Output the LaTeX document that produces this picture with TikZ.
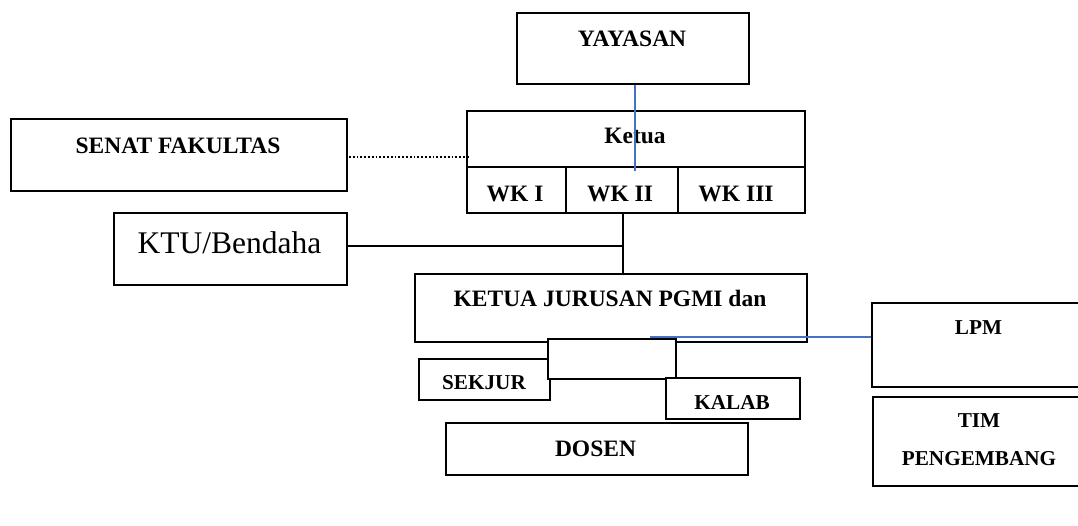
\documentclass[tikz,border=0pt]{standalone}
\usepackage{fontspec}
\setmainfont{Liberation Serif}
\definecolor{wordblue}{RGB}{68,114,196}
\begin{document}
\begin{tikzpicture}[x=1pt,y=-1pt,
  box/.style={draw, line width=1.7pt, fill=white, inner sep=0pt, anchor=north west},
  lbl/.style={font=\fontsize{23.5}{28}\selectfont\bfseries, anchor=base, inner sep=0pt},
  lbls/.style={font=\fontsize{21.2}{25}\selectfont\bfseries, anchor=base, inner sep=0pt},
  lblbig/.style={font=\fontsize{31.5}{36}\selectfont, anchor=base, inner sep=0pt},
  blk/.style={draw, line width=1.7pt},
  blu/.style={draw=wordblue, line width=1.3pt},
  dots/.style={draw, line width=1.8pt, dash pattern=on 1.8pt off 2pt}]
\clip (0,0) rectangle (1078,526);
\fill[white] (0,0) rectangle (1078,526);
% boxes
\node[box, minimum width=232pt, minimum height=71pt] (yayasan) at (516,12) {};
\node[box, minimum width=338pt, minimum height=56pt] (ketua) at (466,110) {};
\node[box, minimum width=99pt, minimum height=46pt] (wk1) at (466,166) {};
\node[box, minimum width=112pt, minimum height=46pt] (wk2) at (565,166) {};
\node[box, minimum width=127pt, minimum height=46pt] (wk3) at (677,166) {};
\node[box, minimum width=336pt, minimum height=72pt] (senat) at (10,118) {};
\node[box, minimum width=233pt, minimum height=72pt] (ktu) at (113,212) {};
\node[box, minimum width=392pt, minimum height=68pt] (kajur) at (414,273) {};
\node[box, minimum width=131pt, minimum height=41pt] (sekjur) at (418,358) {};
\node[box, minimum width=128pt, minimum height=40pt] (blank) at (547,338) {};
\node[box, minimum width=134pt, minimum height=41pt] (kalab) at (665,377) {};
\node[box, minimum width=302pt, minimum height=52pt] (dosen) at (445,422) {};
\node[box, minimum width=215pt, minimum height=84pt] (lpm) at (871,302) {};
\node[box, minimum width=215pt, minimum height=89pt] (tim) at (872,396) {};
% texts
\node[lbl] (tyay) at (632,47) {YAYASAN};
\node[lbl] (tket) at (635,144) {Ketua};
\node[lbl] (twk1) at (515,201.5) {WK I};
\node[lbl] (twk2) at (620,201.5) {WK II};
\node[lbl] (twk3) at (736,201.5) {WK III};
\node[lbl] (tsen) at (178,153.3) {SENAT FAKULTAS};
\node[lblbig] (tktu) at (229.5,254) {KTU/Bendaha};
\node[lbl] (tkaj) at (610,306.7) {KETUA JURUSAN PGMI dan};
\node[lbls] (tsek) at (484,389.3) {SEKJUR};
\node[lbls] (tkal) at (732,409) {KALAB};
\node[lbl] (tdos) at (595.5,456.7) {DOSEN};
\node[lbls] (tlpm) at (978.5,334.3) {LPM};
\node[lbls] (ttim) at (979,427.7) {TIM};
\node[lbls] (tpen) at (979,465) {PENGEMBANG};
% connectors
\coordinate (b1) at (635,171);
\coordinate (d1) at (469,157);
\coordinate (v1) at (623,246);
\coordinate (b2) at (650,337);
\path[blk] (wk2.south -| v1) -- (kajur.north -| v1);
\path[blk] (ktu.east |- v1) -- (v1);
\path[dots] (349,157) -- (d1);
\path[blu] (yayasan.south -| b1) -- (b1);
\path[blu] (b2) -- (lpm.west |- b2);
\end{tikzpicture}
\end{document}
